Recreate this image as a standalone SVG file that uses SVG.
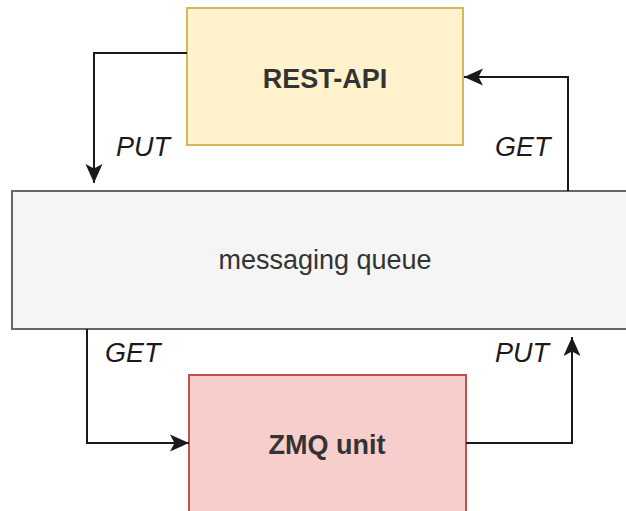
<svg xmlns="http://www.w3.org/2000/svg" width="626" height="511" viewBox="0 0 626 511">
  <style>
    .lbl { font-family: "Liberation Sans", Arial, sans-serif; font-size: 27px; fill: #1a1a1a; }
    .edge-lbl { font-style: italic; }
    .node-txt { font-family: "Liberation Sans", Arial, sans-serif; font-size: 27px; fill: #333333; text-anchor: middle; }
    .bold { font-weight: bold; }
    .conn { fill: none; stroke: #1a1a1a; stroke-width: 2; marker-end: url(#arrow); }
  </style>
  <defs>
    <marker id="arrow" viewBox="0 -9 19 18" refX="19" refY="0" markerWidth="19" markerHeight="18" markerUnits="userSpaceOnUse" orient="auto">
      <path d="M0,-8.5 L19,0 L0,8.5 L4.5,0 Z" fill="#1a1a1a"/>
    </marker>
  </defs>
  <rect width="626" height="511" fill="#ffffff"/>
  <g id="messaging-queue">
    <rect x="12" y="191" width="626" height="138" fill="#f5f5f5" stroke="#666666" stroke-width="2"/>
    <text class="node-txt" x="325" y="269" fill="#4d4d4d">messaging queue</text>
  </g>
  <g id="rest-api">
    <rect x="187" y="8" width="276" height="137" fill="#fff2cc" stroke="#d6b656" stroke-width="2"/>
    <text class="node-txt bold" x="325" y="88">REST-API</text>
  </g>
  <g id="zmq-unit">
    <rect x="189" y="375" width="277" height="140" fill="#f8cecc" stroke="#b85450" stroke-width="2"/>
    <text class="node-txt bold" x="327" y="454">ZMQ unit</text>
  </g>
  <g id="connectors">
    <path class="conn" d="M187,53 H94 V183"/>
    <path class="conn" d="M568,191 V77 H464"/>
    <path class="conn" d="M87,329 V443 H189"/>
    <path class="conn" d="M466,443 H572 V337"/>
    <text class="lbl edge-lbl" x="116" y="156">PUT</text>
    <text class="lbl edge-lbl" x="495" y="156">GET</text>
    <text class="lbl edge-lbl" x="105" y="362">GET</text>
    <text class="lbl edge-lbl" x="495" y="362">PUT</text>
  </g>
</svg>
